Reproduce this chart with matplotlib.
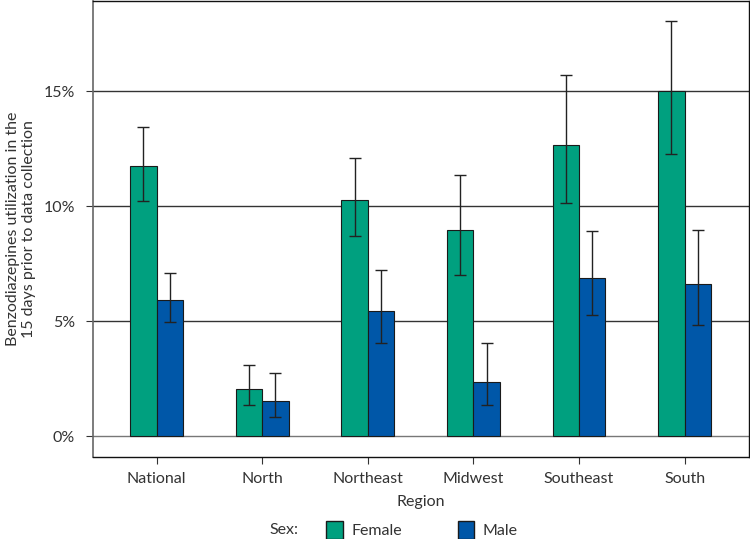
import matplotlib
matplotlib.use("Agg")
import matplotlib.pyplot as plt
from matplotlib.patches import Patch
import numpy as np

regions = ["National", "North", "Northeast", "Midwest", "Southeast", "South"]
female = [11.77, 2.07, 10.27, 8.96, 12.65, 15.0]
female_lo = [10.24, 1.37, 8.70, 7.0, 10.14, 12.29]
female_hi = [13.45, 3.09, 12.09, 11.37, 15.72, 18.06]
male = [5.94, 1.52, 5.43, 2.37, 6.88, 6.61]
male_lo = [4.96, 0.83, 4.07, 1.36, 5.29, 4.83]
male_hi = [7.1, 2.75, 7.23, 4.06, 8.91, 8.98]
yticks = [0, 5, 10, 15]

FEMALE_C = "#00A07F"
MALE_C = "#0057A8"
TXT = "#333333"
FS = 11.5

plt.rcParams['font.family'] = ['Lato', 'DejaVu Sans']

fig = plt.figure(figsize=(7.5, 5.39), dpi=100)
ax = fig.add_axes([93/750, 1 - 457/539, (749-93)/750, (457-1)/539])

x = np.arange(len(regions))
w = 0.25
f = np.array(female); m = np.array(male)
ferr = [f - np.array(female_lo), np.array(female_hi) - f]
merr = [m - np.array(male_lo), np.array(male_hi) - m]

for yv in yticks:
    ax.axhline(yv, color="#333333" if yv else "#777777", lw=1.0, zorder=0)

ax.bar(x - w/2, f, w, color=FEMALE_C, edgecolor="#1a1a1a", linewidth=0.8, zorder=2,
       yerr=ferr, error_kw=dict(ecolor="#222222", elinewidth=1.0, capsize=4, capthick=1.0, zorder=3))
ax.bar(x + w/2, m, w, color=MALE_C, edgecolor="#1a1a1a", linewidth=0.8, zorder=2,
       yerr=merr, error_kw=dict(ecolor="#222222", elinewidth=1.0, capsize=4, capthick=1.0, zorder=3))

ax.set_xlim(-0.603, 5.61)
ax.set_ylim(-0.91, 18.93)
ax.set_xticks(x)
ax.set_xticklabels(regions, fontsize=FS, color=TXT)
ax.set_yticks(yticks)
ax.set_yticklabels([f"{v}%" for v in yticks], fontsize=FS, color=TXT)
ax.tick_params(axis='both', length=5, width=0.8, color="#333333", pad=6)
ax.tick_params(axis='y', pad=8)
for s in ['top', 'right', 'bottom']:
    ax.spines[s].set_color("#111111")
    ax.spines[s].set_linewidth(1.0)
ax.spines['left'].set_color("#666666")
ax.spines['left'].set_linewidth(1.2)

ax.set_xlabel("Region", fontsize=FS, color=TXT, labelpad=6)
ax.set_ylabel("Benzodiazepines utilization in the\n15 days prior to data collection",
              fontsize=FS, color=TXT, labelpad=5)

handles = [Patch(facecolor=FEMALE_C, edgecolor="#1a1a1a", label="Female"),
           Patch(facecolor=MALE_C, edgecolor="#1a1a1a", label="Male")]
leg = fig.legend(handles=handles, loc="center left", bbox_to_anchor=(312/750, 1 - 530/539), ncol=2,
                 frameon=False, fontsize=FS, handlelength=1.05, handleheight=1.35,
                 columnspacing=3.5, handletextpad=0.5)
for t in leg.get_texts():
    t.set_color(TXT)
fig.text(298/750, 1 - 530/539, "Sex:", fontsize=FS, color=TXT, ha="right", va="center")

fig.savefig("out.png", dpi=100)
